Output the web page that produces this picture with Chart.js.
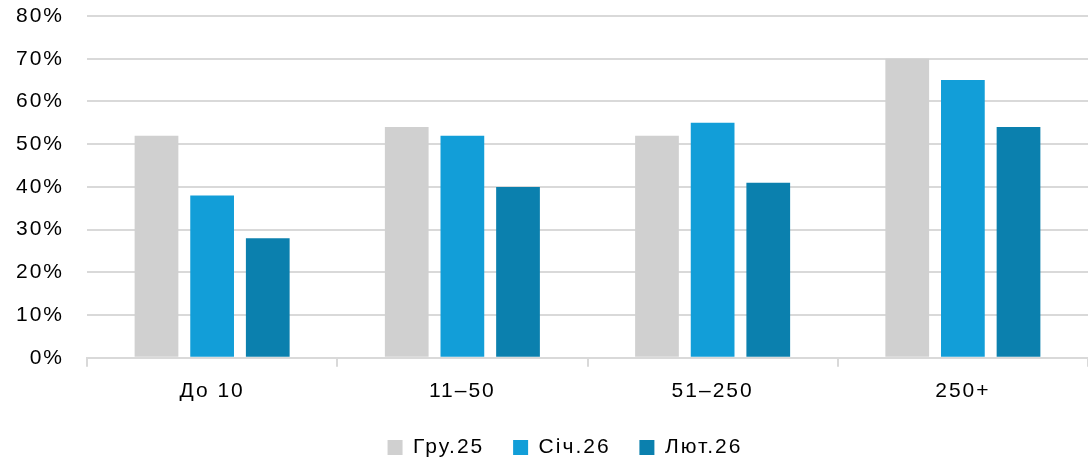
<!DOCTYPE html>
<html>
<head>
<meta charset="utf-8">
<script src="https://cdn.jsdelivr.net/npm/chart.js@4"></script>
<style>
  html, body { margin: 0; padding: 0; background: #fff; }
  #wrap { width: 1088px; height: 461px; }
</style>
</head>
<body>
<div id="wrap"><canvas id="myChart"></canvas></div>
<script>
const categories = ['До 10', '11–50', '51–250', '250+'];
const seriesNames = ['Гру.25', 'Січ.26', 'Лют.26'];
const gru25 = [52, 54, 52, 70];
const sich26 = [38, 52, 55, 65];
const lyut26 = [28, 40, 41, 54];
const yTicks = [0, 10, 20, 30, 40, 50, 60, 70, 80];
const colors = ['#d0d0d0', '#129ed8', '#0b80ae'];

// the reference text is set with wide tracking
const spacing = {
  id: 'spacing',
  beforeLayout(c) { c.ctx.letterSpacing = '2px'; },
  afterLayout(c) { c.legend.left += 42; },  // legend sits a bit right of centre
  beforeDraw(c) { c.ctx.letterSpacing = '2px'; }
};

window.onload = function() {
  const font = { family: '"Liberation Sans", Arial, sans-serif', size: 21 };
  const data = {
    labels: categories,
    datasets: [gru25, sich26, lyut26].map((vals, i) => ({
      label: seriesNames[i],
      data: vals,
      backgroundColor: colors[i],
      borderWidth: 0,
      categoryPercentage: 0.667,
      barPercentage: 0.786
    }))
  };

  const config = {
    type: 'bar',
    data: data,
    plugins: [spacing],
    options: {
      responsive: true,
      maintainAspectRatio: false,
      animation: false,
      layout: { padding: { left: 0, top: 0, right: 0, bottom: -7 } },
      plugins: {
        legend: {
          position: 'bottom',
          labels: {
            font: font,
            color: '#000',
            boxWidth: 15,
            boxHeight: 15,
            padding: 21,
            // a trailing space widens the gap between legend items
            generateLabels: chart => Chart.defaults.plugins.legend.labels.generateLabels(chart)
              .map((l, i, all) => Object.assign(l, { text: i < all.length - 1 ? l.text + ' ' : l.text }))
          }
        },
        tooltip: { enabled: false }
      },
      scales: {
        x: {
          grid: {
            offset: true,
            drawOnChartArea: false,
            tickLength: 9,
            color: '#d9d9d9',
            lineWidth: 2
          },
          border: { color: '#d9d9d9', width: 2 },
          ticks: { font: font, color: '#000', padding: 12 }
        },
        y: {
          min: yTicks[0],
          max: yTicks[yTicks.length - 1],
          afterBuildTicks: s => { s.ticks = yTicks.map(v => ({ value: v })); },
          afterFit: s => { s.width = 87; s.paddingTop = 16; s.paddingBottom = 10; },
          grid: { color: '#d9d9d9', lineWidth: 2, drawTicks: false },
          border: { display: false },
          ticks: {
            font: font,
            color: '#000',
            padding: 23,
            callback: v => v + '%'
          }
        }
      }
    }
  };

  const ctx = document.getElementById('myChart').getContext('2d');
  const myChart = new Chart(ctx, config);
};
</script>
</body>
</html>
